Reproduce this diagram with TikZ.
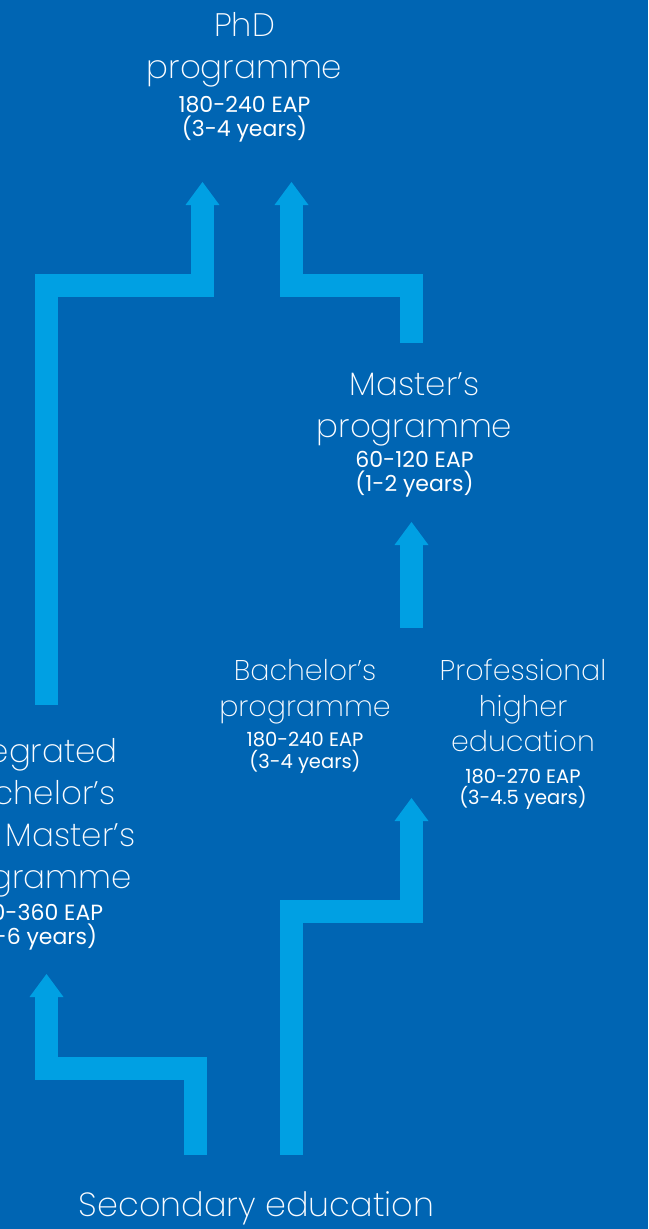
\documentclass[tikz,border=0pt]{standalone}
\usepackage{fontspec}
\IfFontExistsTF{Poppins ExtraLight}{\newfontfamily\titlefont{Poppins ExtraLight}}{%
  \IfFontExistsTF{Poppins Light}{\newfontfamily\titlefont{Poppins Light}}{\newfontfamily\titlefont{Poppins}}}
\newfontfamily\smallfont{Poppins}
\definecolor{bg}{RGB}{0,101,179}
\definecolor{pipe}{RGB}{0,160,227}
\definecolor{txt}{RGB}{250,252,255}
\newcommand\arrowhd[1]{\fill[pipe] (#1) ++(-17,1) -- ++(34,0) -- ++(-17,-23) -- cycle;}
\begin{document}
\begin{tikzpicture}[x=1pt,y=-1pt,
  ttl/.style={anchor=base,inner sep=0pt,text=txt,font=\titlefont\fontsize{32.5}{40}\selectfont},
  ttlb/.style={anchor=base,inner sep=0pt,text=txt,font=\titlefont\fontsize{33.5}{40}\selectfont},
  ttls/.style={anchor=base,inner sep=0pt,text=txt,font=\titlefont\fontsize{28.5}{35}\selectfont},
  sub/.style={anchor=base,inner sep=0pt,text=white,font=\smallfont\fontsize{22}{26}\selectfont},
  subs/.style={anchor=base,inner sep=0pt,text=white,font=\smallfont\fontsize{19.5}{23}\selectfont},
  pipeline/.style={draw=pipe,line width=23pt,line join=miter,line cap=butt}]
\useasboundingbox (0,0) rectangle (648,1229);
\fill[bg] (0,0) rectangle (648,1229);

% PhD
\node[ttl] (phd1) at (244.5,36.7) {PhD};
\node[ttl] (phd2) at (244.5,78.3) {programme};
\node[sub] (phd3) at (244.5,112.3) {180-240 EAP};
\node[sub] (phd4) at (244.5,136.7) {(3-4 years)};

% Master
\node[ttl] (ma1) at (414.5,395.7) {Master’s};
\node[ttl] (ma2) at (414.5,437.3) {programme};
\node[sub] (ma3) at (414.5,467.3) {60-120 EAP};
\node[sub] (ma4) at (414.5,491.7) {(1-2 years)};

% Bachelor
\node[ttls] (ba1) at (305,680) {Bachelor’s};
\node[ttls] (ba2) at (305,716) {programme};
\node[subs] (ba3) at (305,746.7) {180-240 EAP};
\node[subs] (ba4) at (305,768.3) {(3-4 years)};

% Professional
\node[ttls] (pr1) at (523,680) {Professional};
\node[ttls] (pr2) at (523,716) {higher};
\node[ttls] (pr3) at (523,751.7) {education};
\node[subs] (pr4) at (523,783.3) {180-270 EAP};
\node[subs] (pr5) at (523,804.9) {(3-4.5 years)};

% Integrated
\node[ttl] (in1) at (34,762) {Integrated};
\node[ttl] (in2) at (34,804) {Bachelor’s};
\node[ttl] (in3) at (34,846) {and Master’s};
\node[ttl] (in4) at (34,888) {programme};
\node[sub] (in5) at (34,920) {300-360 EAP};
\node[sub] (in6) at (34,944.4) {(5-6 years)};

% Secondary
\node[ttlb] (sec) at (256.5,1216.7) {Secondary education};

% routing points
\coordinate (a0) at (46.5,705);
\coordinate (a1) at (46.5,285.5);
\coordinate (a2) at (202.5,285.5);
\coordinate (hA) at (202.5,204);
\coordinate (b0) at (411.5,343);
\coordinate (b1) at (411.5,285.5);
\coordinate (b2) at (291.5,285.5);
\coordinate (hB) at (291.5,204);
\coordinate (c0) at (411.5,628);
\coordinate (hC) at (411.5,544);
\coordinate (d0) at (291.5,1155);
\coordinate (d1) at (291.5,911);
\coordinate (d2) at (411.5,911);
\coordinate (hD) at (411.5,820);
\coordinate (e0) at (195.5,1155);
\coordinate (e1) at (195.5,1068.5);
\coordinate (e2) at (46.5,1068.5);
\coordinate (hE) at (46.5,996);

\draw[pipeline] (a0) -- (a1) -- (a2) -- (hA);
\arrowhd{hA}
\draw[pipeline] (b0) -- (b1) -- (b2) -- (hB);
\arrowhd{hB}
\draw[pipeline] (c0) -- (hC);
\arrowhd{hC}
\draw[pipeline] (d0) -- (d1) -- (d2) -- (hD);
\arrowhd{hD}
\draw[pipeline] (e0) -- (e1) -- (e2) -- (hE);
\arrowhd{hE}
\end{tikzpicture}
\end{document}
